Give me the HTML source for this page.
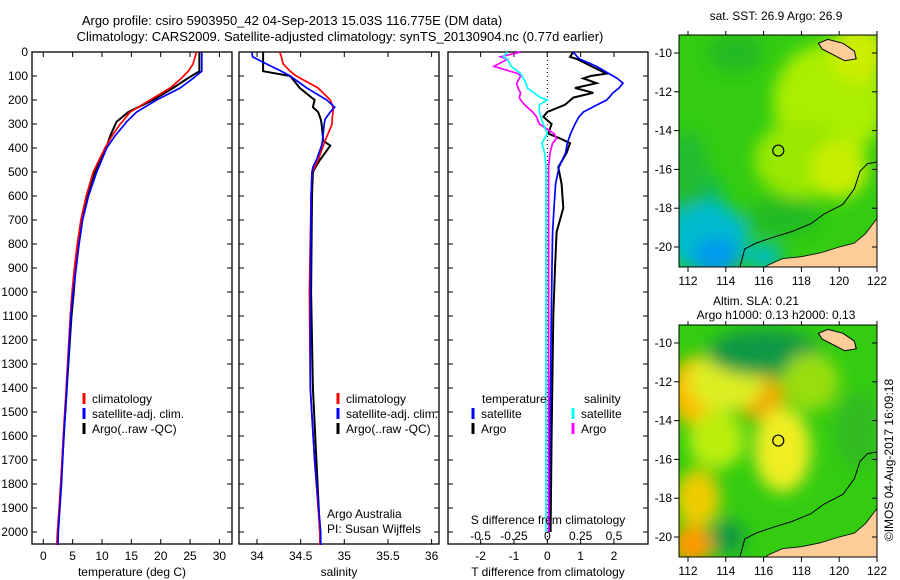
<!DOCTYPE html>
<html><head><meta charset="utf-8"><style>
body{margin:0;background:#fff;}
svg{display:block;font-family:"Liberation Sans",sans-serif;}
</style></head><body>
<svg id="c" width="900" height="580" viewBox="0 0 900 580">
<defs>
<filter id="blur1" x="-20%" y="-20%" width="140%" height="140%"><feGaussianBlur stdDeviation="8"/></filter>
<clipPath id="clip1"><rect x="679" y="35" width="198" height="232"/></clipPath>
<clipPath id="clip2"><rect x="679" y="325" width="198" height="232"/></clipPath>
</defs>
<text x="292" y="25" font-size="13" text-anchor="middle">Argo profile: csiro 5903950_42 04-Sep-2013 15.03S 116.775E (DM data)</text>
<text x="340" y="41" font-size="13" text-anchor="middle">Climatology: CARS2009. Satellite-adjusted climatology: synTS_20130904.nc (0.77d earlier)</text>
<g id="g"></g>
</svg>
<script>
// Depth profiles (m)
const tDepth   = [0,50,80,110,150,200,250,290,300,350,400,500,600,700,800,900,1000,1100,1400,1600,1800,2000,2054];
const tClim    = [26.1,25.5,24.7,23.5,21.6,18.2,14.8,13.5,13.1,11.7,10.5,8.5,7.3,6.4,5.8,5.3,4.9,4.6,3.9,3.4,3.0,2.4,2.3];
const tSat     = [27.0,27.0,27.0,25.5,23.3,19.3,15.9,14.2,13.9,12.2,10.8,9.1,7.7,6.7,6.1,5.6,5.1,4.7,4.0,3.5,3.1,2.55,2.5];
const tArgo    = [26.6,26.6,26.6,24.6,22.1,18.7,14.5,12.5,12.3,11.4,10.7,8.8,7.5,6.6,6.0,5.5,5.2,4.8,4.0,3.5,3.0,2.5,null];
const sDepth   = [0,20,50,80,100,150,200,230,250,280,300,370,390,450,480,500,600,1000,1400,1700,2000,2054];
const sClim    = [34.26,34.28,34.30,34.38,34.45,34.70,34.84,34.87,34.87,34.86,34.86,34.78,34.76,34.70,34.66,34.63,34.62,34.60,34.61,34.66,34.72,34.72];
const sSat     = [33.94,33.95,34.11,34.28,34.38,34.57,34.80,34.89,34.84,34.78,34.77,34.75,34.74,34.68,34.64,34.63,34.62,34.61,34.61,34.66,34.73,34.73];
const sArgo    = [34.07,34.07,34.07,34.07,34.38,34.49,34.66,34.64,34.70,34.73,34.74,34.76,34.84,34.72,34.67,34.64,34.63,34.62,34.64,34.68,34.72,null];
const dDepth   = [0,20,30,60,90,100,110,130,150,170,190,200,220,250,270,300,340,360,380,420,480,550,650,750,900,1100,1600,2000];
const dTsat    = [0.78,0.9,0.98,1.48,1.85,1.97,2.1,2.27,2.15,1.97,1.85,1.78,1.5,1.08,0.95,0.83,0.7,0.65,0.6,0.55,0.35,0.25,0.2,0.16,0.14,0.12,0.08,0.05];
const dTargo   = [0.78,0.68,0.9,1.33,1.78,1.3,1.08,1.48,0.83,1.38,0.78,0.7,0.53,0.0,-0.12,0.13,0.03,0.38,0.68,0.58,0.33,0.43,0.48,0.28,0.23,0.18,0.13,0.1];
const dSsat    = [-0.30,-0.33,-0.3,-0.27,-0.2,-0.19,-0.18,-0.16,-0.15,-0.1,-0.05,0.0,-0.06,-0.06,-0.05,-0.03,0.0,-0.02,-0.04,-0.02,-0.01,-0.01,-0.01,-0.01,-0.01,-0.01,-0.01,-0.01];
const dSargo   = [-0.2,-0.35,-0.3,-0.4,-0.22,-0.2,-0.21,-0.23,-0.22,-0.2,-0.21,-0.2,-0.17,-0.11,-0.08,-0.06,0.05,0.07,0.04,0.02,0.01,0.01,0.01,0.01,0.01,0.01,0.01,0.01];
const depthTicks = [0,100,200,300,400,500,600,700,800,900,1000,1100,1200,1300,1400,1500,1600,1700,1800,1900,2000];
const tempTicks = [0,5,10,15,20,25,30];
const salTicks = [34,34.5,35,35.5,36];
const salTickLabels = ["34","34.5","35","35.5","36"];
const dTTicks = [-2,-1,0,1,2];
const dSTicks = [-0.5,-0.25,0,0.25,0.5];
const dSTickLabels = ["-0.5","-0.25","0","0.25","0.5"];
const lonTicks = [112,114,116,118,120,122];
const latTicks = [-10,-12,-14,-16,-18,-20];
const argoLon = 116.775, argoLat = -15.03;

const NS="http://www.w3.org/2000/svg";
const G=document.getElementById('g');
function mk(tag,attrs,parent){const e=document.createElementNS(NS,tag);for(const k in attrs)e.setAttribute(k,attrs[k]);(parent||G).appendChild(e);return e;}
function txt(x,y,s,size,anchor,parent){const e=mk('text',{x:x,y:y,'font-size':size||12,'text-anchor':anchor||'start'},parent);e.textContent=s;return e;}

const yD=d=>52+d*0.24;
const xT=t=>43.3+t*5.87;
const xS=s=>257+(s-34)*87.3;
const xDT=v=>547.3+v*33.33;
const xDS=v=>547.3+v*133.33;
const TOP=52,BOT=544;

function panel(x0,x1,name){
  const r=mk('rect',{x:x0,y:TOP,width:x1-x0,height:BOT-TOP,fill:'none',stroke:'#000','stroke-width':1.3});
  
  
  depthTicks.forEach(d=>{mk('line',{x1:x0,x2:x0+5,y1:yD(d),y2:yD(d),stroke:'#000'});mk('line',{x1:x1-5,x2:x1,y1:yD(d),y2:yD(d),stroke:'#000'});});
}
function xticks(arr,fx,labels,y){
  arr.forEach((v,i)=>{const x=fx(v);mk('line',{x1:x,x2:x,y1:BOT,y2:BOT-5,stroke:'#000'});mk('line',{x1:x,x2:x,y1:TOP,y2:TOP+5,stroke:'#000'});
    if(labels){const t=txt(x,y,labels[i],12,'middle');}});
}
function line(depths,vals,fx,color,w,name){
  let d='';let pen=false;
  depths.forEach((dp,i)=>{const v=vals[i];if(v===null||v===undefined){pen=false;return;}d+=(pen?'L':'M')+fx(v).toFixed(1)+','+yD(dp).toFixed(1);pen=true;});
  const p=mk('path',{d:d,fill:'none',stroke:color,'stroke-width':w||2});
  
  
}
function legend(x,y,color,label){
  mk('line',{x1:x,x2:x,y1:y-10,y2:y+1,stroke:color,'stroke-width':3});
  const t=txt(x+8,y,label,12);
  
  
}

depthTicks.forEach(d=>{const t=txt(28,yD(d)+4,String(d),12,'end');});

panel(32,232,'temperature-panel');
xticks(tempTicks,xT,tempTicks.map(String),560);
line(tDepth,tArgo,xT,'#000',2,'temp-argo-line');
line(tDepth,tClim,xT,'#f00',1.7,'temp-clim-line');
line(tDepth,tSat,xT,'#00f',1.7,'temp-sat-line');
let tt=txt(132,576,'temperature (deg C)',12,'middle');
legend(84,403,'#f00','climatology');legend(84,418,'#00f','satellite-adj. clim.');legend(84,433,'#000','Argo(..raw -QC)');

panel(239,439,'salinity-panel');
xticks(salTicks,xS,salTickLabels,560);
line(sDepth,sArgo,xS,'#000',2,'sal-argo-line');
line(sDepth,sClim,xS,'#f00',1.7,'sal-clim-line');
line(sDepth,sSat,xS,'#00f',1.7,'sal-sat-line');
tt=txt(339,576,'salinity',12,'middle');
legend(338,403,'#f00','climatology');legend(338,418,'#00f','satellite-adj. clim.');legend(338,433,'#000','Argo(..raw -QC)');
txt(327,518,'Argo Australia',12);
txt(327,533,'PI: Susan Wijffels',12);

panel(448,648,'difference-panel');
xticks(dTTicks,xDT,dTTicks.map(String),560);
dSTicks.forEach((v,i)=>{const t=txt(xDS(v),540,dSTickLabels[i],12,'middle');});
mk('line',{x1:xDT(0),x2:xDT(0),y1:TOP,y2:BOT,stroke:'#000','stroke-dasharray':'1,3'});
line(dDepth,dTargo,xDT,'#000',2,'tdiff-argo-line');
line(dDepth,dTsat,xDT,'#00f',1.7,'tdiff-sat-line');
line(dDepth,dSargo,xDS,'#f0f',1.7,'sdiff-argo-line');
line(dDepth,dSsat,xDS,'#0ff',1.7,'sdiff-sat-line');
tt=txt(548,524,'S difference from climatology',12,'middle');
tt=txt(548,576,'T difference from climatology',12,'middle');
txt(482,403,'temperature',12);txt(584,403,'salinity',12);
legend(473,418,'#00f','satellite');legend(473,433,'#000','Argo');
legend(573,418,'#0ff','satellite');legend(573,433,'#f0f','Argo');

const xL=l=>688+(l-112)*18.9;
function map(top,lat10,clipId,base,blobs,name){
  const yL=l=>lat10+(-10-l)*19.4;
  const g=mk('g',{'clip-path':'url(#'+clipId+')'});
  
  
  mk('rect',{x:679,y:top,width:198,height:232,fill:base},g);
  const bg=mk('g',{filter:'url(#blur1)'},g);
  blobs.forEach(b=>mk('ellipse',{cx:xL(b[0]),cy:yL(b[1]),rx:b[2]*18.9,ry:b[3]*19.4,fill:b[4]},bg));
  const aus=[[115.8,-21.2],[116.3,-20.9],[117,-20.6],[118,-20.5],[119,-20.3],[120,-20.0],[120.8,-19.8],[121.4,-19.3],[122.1,-18.4],[122.1,-21.2]];
  mk('path',{d:'M'+aus.map(p=>xL(p[0])+','+yL(p[1])).join('L')+'Z',fill:'#fccc99',stroke:'#000','stroke-width':0.8},g);
  const isl=[[118.9,-9.5],[119.4,-9.3],[120.2,-9.5],[120.8,-9.9],[120.9,-10.3],[120.3,-10.4],[119.7,-10.1],[119.1,-9.8]];
  mk('path',{d:'M'+isl.map(p=>xL(p[0])+','+yL(p[1])).join('L')+'Z',fill:'#fccc99',stroke:'#000','stroke-width':1},g);
  const cont=[[114.7,-21.2],[115,-20.1],[115.6,-19.8],[116.5,-19.5],[117.5,-19.2],[118.5,-18.8],[119.2,-18.3],[120.2,-17.8],[120.8,-17.0],[121.1,-16.1],[121.5,-15.7],[122.1,-15.6]];
  mk('path',{d:'M'+cont.map(p=>xL(p[0])+','+yL(p[1])).join('L'),fill:'none',stroke:'#000','stroke-width':1},g);
  mk('circle',{cx:xL(argoLon),cy:yL(argoLat),r:5.5,fill:'none',stroke:'#000','stroke-width':1.2},g);
  mk('rect',{x:679,y:top,width:198,height:232,fill:'none',stroke:'#000'});
  latTicks.forEach(l=>{const y=yL(l);mk('line',{x1:679,x2:674,y1:y,y2:y,stroke:'#000'});mk('line',{x1:877,x2:872,y1:y,y2:y,stroke:'#000'});
    const t=txt(672,y+4,String(l),12,'end');});
  lonTicks.forEach(l=>{const x=xL(l);mk('line',{x1:x,x2:x,y1:top+232,y2:top+237,stroke:'#000'});mk('line',{x1:x,x2:x,y1:top,y2:top-4,stroke:'#000'});
    const t=txt(x,top+250,String(l),12,'middle');});
}
map(35,53,'clip1','#33cc11',[
  [119.5,-12.5,3,3,'#aaee00'],[118,-15.5,2.5,2,'#99e800'],[120,-16,1.5,1.5,'#c8ee00'],[121,-10,1.5,1.5,'#ccee00'],
  [112.5,-18,1.5,2,'#11bb55'],[113,-19.5,2.2,1.8,'#00bbcc'],[113.5,-20.5,1.2,1,'#0099ee'],[112,-16,1,2,'#22bb33'],[116,-20.5,1,0.7,'#00bbbb'],[117,-18.5,2,1,'#22bb22'],[114.5,-10,1.5,1,'#22bb22']
],'sst-map');
map(325,343,'clip2','#33cc11',[
  [112.5,-12.5,1.5,1.8,'#ffbb00'],[115.8,-12.8,1.3,1.2,'#eeaa00'],[117,-15.5,1.5,2.2,'#eeee22'],[112.5,-18,1.2,1.5,'#eecc00'],[112.2,-20.4,1.1,1,'#ff9900'],
  [114,-12,2,1.5,'#ddee22'],[113.5,-15,1.5,1.5,'#bbee11'],[116,-10.5,3,1.2,'#119944'],[121,-14.5,1.2,2,'#33bb22'],[114.1,-20,0.9,0.9,'#119944'],[118.5,-12,1.5,1.5,'#99dd11']
],'sla-map');
let t1=txt(776,20,'sat. SST: 26.9 Argo: 26.9',12,'middle');
t1=txt(756,305,'Altim. SLA: 0.21',12,'middle');
t1=txt(776,319,'Argo h1000: 0.13 h2000: 0.13',12,'middle');
t1=txt(0,0,'©IMOS 04-Aug-2017 16:09:18',12,'middle');t1.setAttribute('transform','translate(893,460) rotate(-90)');


</script>
</body></html>
